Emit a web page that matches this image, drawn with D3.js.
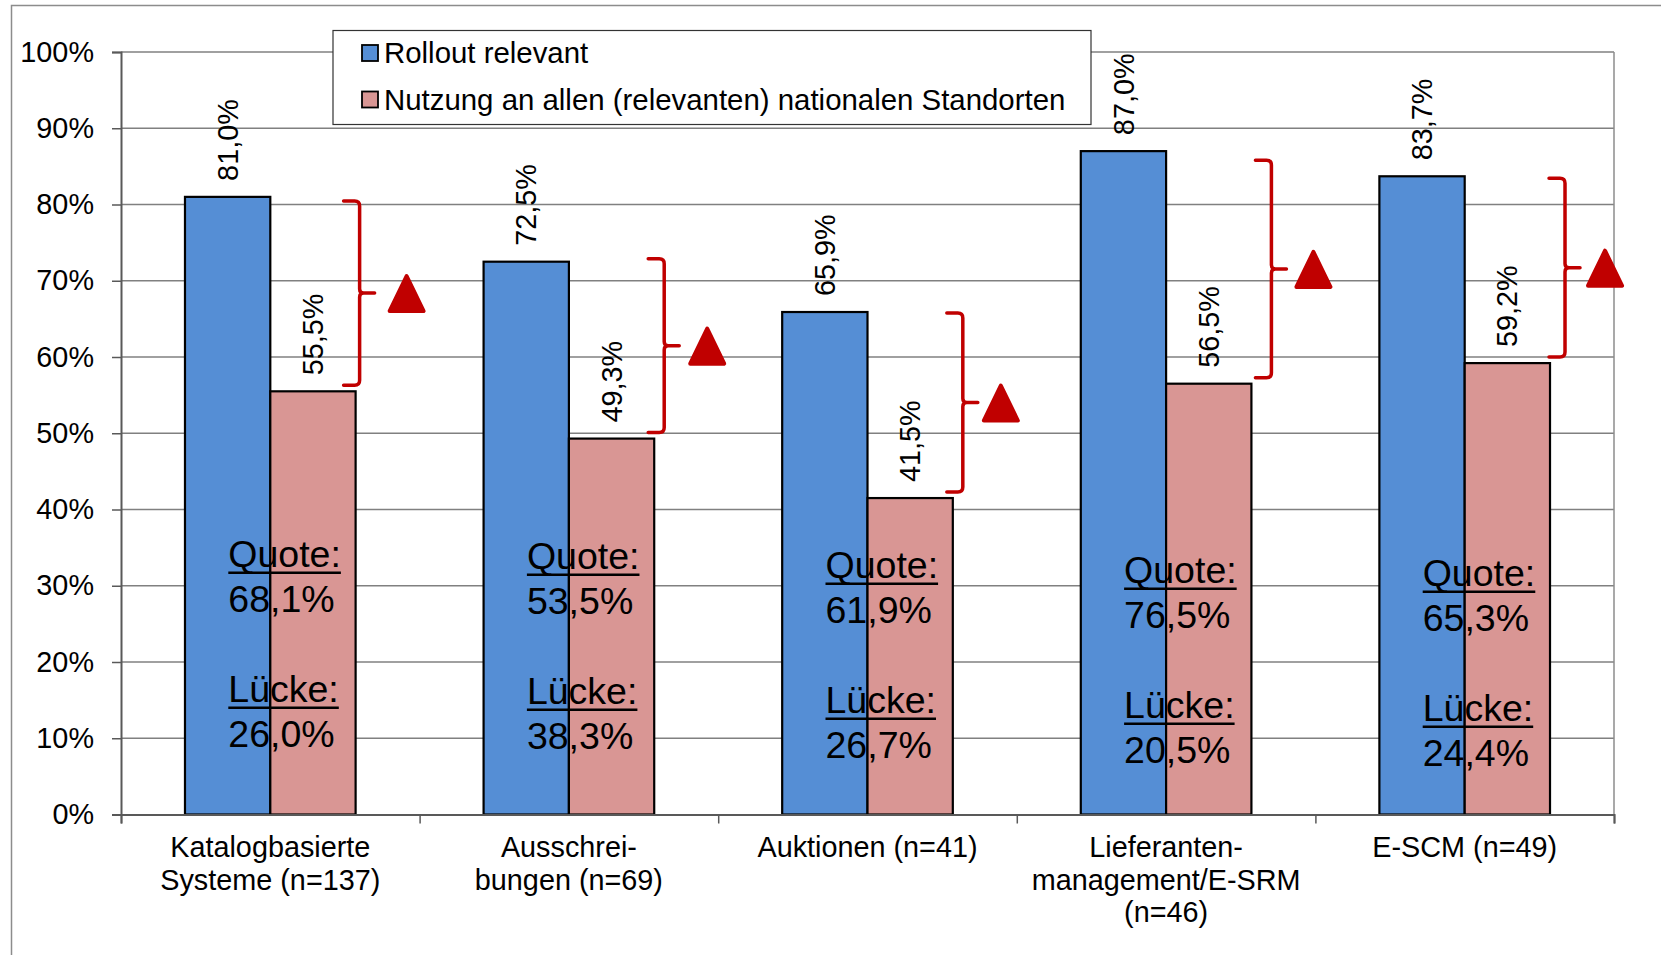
<!DOCTYPE html>
<html>
<head>
<meta charset="utf-8">
<script src="https://cdn.jsdelivr.net/npm/d3@7"></script>
<style>
  body { margin: 0; background: #fff; }
  svg text { font-family: "Liberation Sans", Arial, sans-serif; fill: #000; }
</style>
</head>
<body>
<svg id="chart" width="1661" height="955"></svg>
<script>
// chart data
const categories = [
  ["Katalogbasierte", "Systeme (n=137)"],
  ["Ausschrei-", "bungen (n=69)"],
  ["Auktionen (n=41)"],
  ["Lieferanten-", "management/E-SRM", "(n=46)"],
  ["E-SCM (n=49)"]
];
const seriesNames = ["Rollout relevant", "Nutzung an allen (relevanten) nationalen Standorten"];
const rollout = [81.0, 72.5, 65.9, 87.0, 83.7];
const nutzung = [55.5, 49.3, 41.5, 56.5, 59.2];
const quote = [68.1, 53.5, 61.9, 76.5, 65.3];
const luecke = [26.0, 38.3, 26.7, 20.5, 24.4];
const yTicks = [0, 10, 20, 30, 40, 50, 60, 70, 80, 90, 100];

// hand placed annotation offsets (px)
const bracketDx = [4, 10, 10, 20, 15];
const bracketTopDy = [4, -3, 1, 9, 2];
const arrowDx = [47, 43, 38, 42, 40];
const textDy = [0, 2, 11, 16, 19];

const colors = ["#558ED5", "#D99694"];
const red = "#C00000";

const plotLeft = 121, plotRight = 1614, plotTop = 52, plotBottom = 814.5;

const svg = d3.select("#chart");

// outer frame
svg.append("rect")
  .attr("x", 11.5).attr("y", 5.5)
  .attr("width", 1700).attr("height", 1000)
  .attr("fill", "none").attr("stroke", "#8c8c8c").attr("stroke-width", 1.5);

const idx = d3.range(categories.length);
const x0 = d3.scaleBand().domain(idx).range([plotLeft, plotRight]).paddingInner(0).paddingOuter(0);
const bw = x0.bandwidth();
const gap = bw * 1.5 / 3.5;
const x1 = d3.scaleBand().domain([0, 1]).range([gap / 2, bw - gap / 2]);
const y = d3.scaleLinear().domain([0, 100]).range([plotBottom, plotTop]);
const xb = d3.scaleLinear().domain([0, categories.length]).range([plotLeft, plotRight]);

// gridlines
svg.append("g")
  .selectAll("line")
  .data(yTicks.filter(d => d > 0))
  .enter().append("line")
  .attr("x1", plotLeft).attr("x2", plotRight)
  .attr("y1", d => y(d)).attr("y2", d => y(d))
  .attr("stroke", "#808080").attr("stroke-width", 1.5);

// plot area right border
svg.append("line")
  .attr("x1", plotRight).attr("x2", plotRight)
  .attr("y1", plotTop).attr("y2", plotBottom)
  .attr("stroke", "#8c8c8c").attr("stroke-width", 1.5);

// y axis
const yAxis = svg.append("g")
  .attr("transform", `translate(${plotLeft},0)`)
  .call(d3.axisLeft(y).tickValues(yTicks).tickFormat(d => d + "%").tickSize(9).tickPadding(18));
yAxis.selectAll("text").style("font-size", "28.8px");
yAxis.selectAll("line").attr("stroke", "#595959").attr("stroke-width", 1.5);
yAxis.select(".domain").attr("stroke", "#595959").attr("stroke-width", 2);

// bars
const groups = svg.append("g")
  .selectAll("g")
  .data(idx)
  .enter().append("g")
  .attr("transform", i => `translate(${x0(i)},0)`);

groups.selectAll("rect")
  .data(i => [rollout[i], nutzung[i]])
  .enter().append("rect")
  .attr("x", (d, j) => x1(j))
  .attr("width", x1.bandwidth())
  .attr("y", d => y(d))
  .attr("height", d => y(0) - y(d))
  .attr("fill", (d, j) => colors[j])
  .attr("stroke", "#000").attr("stroke-width", 2.2);

// x axis
const xAxis = svg.append("g")
  .attr("transform", `translate(0,${plotBottom})`)
  .call(d3.axisBottom(xb).ticks(categories.length).tickFormat("").tickSize(9));
xAxis.selectAll("line").attr("stroke", "#595959").attr("stroke-width", 1.5);
xAxis.select(".domain").attr("stroke", "#595959").attr("stroke-width", 2);

// category labels
const catLabels = svg.append("g")
  .selectAll("text")
  .data(idx)
  .enter().append("text")
  .attr("text-anchor", "middle")
  .attr("x", i => x0(i) + bw / 2)
  .attr("y", 857)
  .style("font-size", "28.8px");
catLabels.selectAll("tspan")
  .data(i => categories[i])
  .enter().append("tspan")
  .attr("x", function() { return this.parentNode.getAttribute("x"); })
  .attr("dy", (d, k) => k === 0 ? 0 : 32.5)
  .text(d => d);

// value labels (rotated)
const fmt = v => d3.format(".1f")(v).replace(".", ",") + "%";
groups.selectAll("text.val")
  .data(i => [rollout[i], nutzung[i]])
  .enter().append("text")
  .attr("class", "val")
  .attr("transform", (d, j) => `translate(${x1(j) + x1.bandwidth() / 2},${y(d) - 16}) rotate(-90)`)
  .attr("dy", "0.35em")
  .style("font-size", "28.8px")
  .text(d => fmt(d));

// brackets and triangles
idx.forEach(i => {
  const bx = x0(i) + x1(1) + x1.bandwidth() + bracketDx[i];
  const yT = y(rollout[i]) + bracketTopDy[i];
  const yB = y(nutzung[i]) - 6;
  const ym = (yT + yB) / 2;
  const p = d3.path();
  p.moveTo(bx - 16, yT);
  p.lineTo(bx - 5, yT);
  p.quadraticCurveTo(bx, yT, bx, yT + 5);
  p.lineTo(bx, ym - 4);
  p.quadraticCurveTo(bx, ym, bx + 4, ym);
  p.lineTo(bx + 15, ym);
  p.moveTo(bx + 4, ym);
  p.quadraticCurveTo(bx, ym, bx, ym + 4);
  p.lineTo(bx, yB - 5);
  p.quadraticCurveTo(bx, yB, bx - 5, yB);
  p.lineTo(bx - 16, yB);
  svg.append("path")
    .attr("d", p.toString())
    .attr("fill", "none").attr("stroke", red).attr("stroke-width", 3.5)
    .attr("stroke-linecap", "round").attr("stroke-linejoin", "round");

  const tx = bx + arrowDx[i];
  svg.append("path")
    .attr("d", `M${tx},${ym - 17} L${tx + 17},${ym + 18} L${tx - 17},${ym + 18} Z`)
    .attr("fill", red).attr("stroke", red).attr("stroke-width", 4)
    .attr("stroke-linejoin", "round");
});

// Quote / Lücke annotations
idx.forEach(i => {
  const tx = x0(i) + bw / 2 - 42;
  const base = y(32.5) + textDy[i];
  const rows = [
    { t: "Quote:", yy: base, u: true },
    { t: fmt(quote[i]), yy: base + 45, u: false },
    { t: "Lücke:", yy: base + 135, u: true },
    { t: fmt(luecke[i]), yy: base + 180, u: false }
  ];
  rows.forEach(r => {
    const t = svg.append("text")
      .attr("x", tx).attr("y", r.yy)
      .style("font-size", "37.5px")
      .text(r.t);
    if (r.u) {
      const w = t.node().getComputedTextLength();
      svg.append("line")
        .attr("x1", tx).attr("x2", tx + w)
        .attr("y1", r.yy + 6).attr("y2", r.yy + 6)
        .attr("stroke", "#000").attr("stroke-width", 2.5);
    }
  });
});

// legend
const legend = svg.append("g");
legend.append("rect")
  .attr("x", 333).attr("y", 30.5)
  .attr("width", 758).attr("height", 94)
  .attr("fill", "#fff").attr("stroke", "#333").attr("stroke-width", 1.2);
const items = legend.selectAll("g")
  .data(seriesNames)
  .enter().append("g")
  .attr("transform", (d, j) => `translate(362,${53 + j * 46.5})`);
items.append("rect")
  .attr("x", 0).attr("y", -8)
  .attr("width", 16).attr("height", 16)
  .attr("fill", (d, j) => colors[j])
  .attr("stroke", "#000").attr("stroke-width", 1.8);
items.append("text")
  .attr("x", 22).attr("dy", "0.35em")
  .style("font-size", "29.4px")
  .text(d => d);
</script>
</body>
</html>
